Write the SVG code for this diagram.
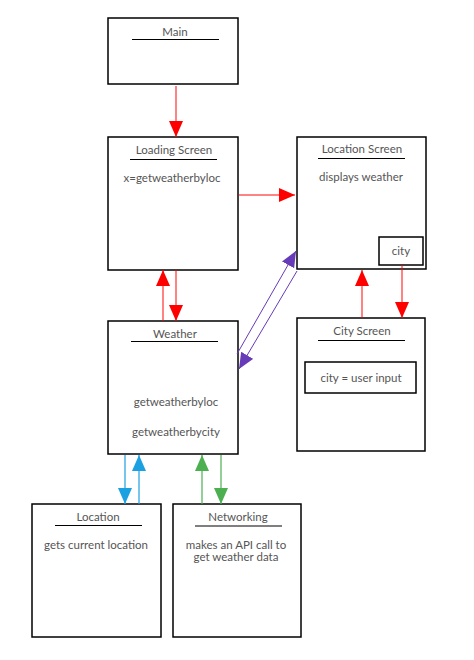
<svg xmlns="http://www.w3.org/2000/svg" width="474" height="660" viewBox="0 0 474 660">
<style>
.box{fill:#fff;stroke:#000;stroke-width:1.5}
.t{font-family:Lato,"Open Sans",sans-serif;font-size:11.5px;fill:#555;text-anchor:middle}
.ul{stroke:#000;stroke-width:1.2}
.red{stroke:#ff0000;stroke-opacity:0.65;stroke-width:1.5;fill:none}
.pur{stroke:#673ab7;stroke-width:1;fill:none}
.blu{stroke:#1ba1e2;stroke-opacity:0.8;stroke-width:1.5;fill:none}
.grn{stroke:#4caf50;stroke-opacity:0.8;stroke-width:1.5;fill:none}
</style>
<defs>
<marker id="mr" markerUnits="userSpaceOnUse" markerWidth="18" markerHeight="16" refX="16" refY="7" orient="auto"><path d="M0,0 L16,7 L0,14 Z" fill="#ff0000"/></marker>
<marker id="mp" markerUnits="userSpaceOnUse" markerWidth="18" markerHeight="16" refX="16" refY="7" orient="auto"><path d="M0,0 L16,7 L0,14 Z" fill="#673ab7"/></marker>
<marker id="mb" markerUnits="userSpaceOnUse" markerWidth="18" markerHeight="16" refX="16" refY="7" orient="auto"><path d="M0,0 L16,7 L0,14 Z" fill="#1ba1e2"/></marker>
<marker id="mg" markerUnits="userSpaceOnUse" markerWidth="18" markerHeight="16" refX="16" refY="7" orient="auto"><path d="M0,0 L16,7 L0,14 Z" fill="#4caf50"/></marker>
</defs>
<rect width="474" height="660" fill="#fff"/>
<g id="main">
<rect class="box" x="108" y="18" width="130" height="66"/>
<text class="t" x="175" y="36">Main</text>
<line class="ul" x1="132" y1="39.5" x2="219" y2="39.5"/>
</g>
<g id="loading">
<rect class="box" x="108" y="137" width="130" height="133"/>
<text class="t" x="174" y="154">Loading Screen</text>
<line class="ul" x1="130" y1="159.5" x2="217" y2="159.5"/>
<text class="t" x="172" y="182">x=getweatherbyloc</text>
</g>
<g id="locationscreen">
<rect class="box" x="297" y="137" width="129" height="132"/>
<text class="t" x="362" y="153">Location Screen</text>
<line class="ul" x1="318" y1="158.5" x2="405" y2="158.5"/>
<text class="t" x="361" y="181">displays weather</text>
<g id="city"><rect class="box" x="379" y="237" width="44" height="28"/>
<text class="t" x="401" y="255">city</text></g>
</g>
<g id="weather">
<rect class="box" x="108" y="321" width="130" height="133"/>
<text class="t" x="175" y="338">Weather</text>
<line class="ul" x1="131" y1="341.5" x2="218" y2="341.5"/>
<text class="t" x="176" y="406">getweatherbyloc</text>
<text class="t" x="176" y="436">getweatherbycity</text>
</g>
<g id="cityscreen">
<rect class="box" x="297" y="318" width="128" height="133"/>
<text class="t" x="362" y="335">City Screen</text>
<line class="ul" x1="318" y1="340.5" x2="405" y2="340.5"/>
<g id="cityinput"><rect class="box" x="305" y="362" width="111" height="31"/>
<text class="t" x="361" y="382">city = user input</text></g>
</g>
<g id="location">
<rect class="box" x="32" y="504" width="129" height="133"/>
<text class="t" x="98" y="521">Location</text>
<line class="ul" x1="55" y1="525.5" x2="142" y2="525.5"/>
<text class="t" x="96" y="549">gets current location</text>
</g>
<g id="networking">
<rect class="box" x="173" y="504" width="128" height="133"/>
<text class="t" x="238" y="521">Networking</text>
<line class="ul" x1="195" y1="526" x2="282" y2="526"/>
<text class="t" x="236" y="548.5">makes an API call to</text>
<text class="t" x="236" y="561">get weather data</text>
</g>
<g id="connectors">
<line class="red" x1="176" y1="86" x2="176" y2="137" marker-end="url(#mr)"/>
<line class="red" x1="239" y1="195" x2="295" y2="195" marker-end="url(#mr)"/>
<line class="red" x1="163" y1="321" x2="163" y2="270" marker-end="url(#mr)"/>
<line class="red" x1="176" y1="270" x2="176" y2="321" marker-end="url(#mr)"/>
<line class="red" x1="362" y1="318" x2="362" y2="270" marker-end="url(#mr)"/>
<line class="red" x1="402" y1="265" x2="402" y2="318" marker-end="url(#mr)"/>
<line class="pur" x1="237" y1="354" x2="296" y2="251" marker-end="url(#mp)"/>
<line class="pur" x1="297" y1="271" x2="239" y2="369" marker-end="url(#mp)"/>
<line class="blu" x1="125" y1="455" x2="125" y2="504" marker-end="url(#mb)"/>
<line class="blu" x1="139" y1="504" x2="139" y2="455" marker-end="url(#mb)"/>
<line class="grn" x1="202" y1="504" x2="202" y2="455" marker-end="url(#mg)"/>
<line class="grn" x1="221" y1="455" x2="221" y2="504" marker-end="url(#mg)"/>
</g>
</svg>
